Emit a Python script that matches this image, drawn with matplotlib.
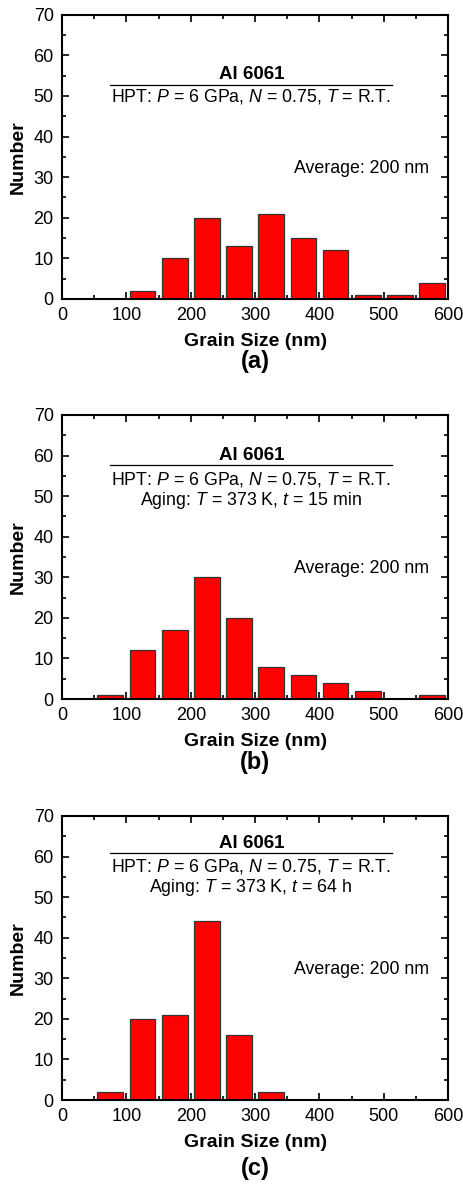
import numpy as np
import matplotlib
matplotlib.use('Agg')
import matplotlib.pyplot as plt
from matplotlib.ticker import MultipleLocator

plt.rcParams['font.family'] = ['Liberation Sans', 'DejaVu Sans']
plt.rcParams['mathtext.fontset'] = 'custom'
plt.rcParams['mathtext.rm'] = 'Liberation Sans'
plt.rcParams['mathtext.it'] = 'Liberation Sans:italic'
plt.rcParams['mathtext.bf'] = 'Liberation Sans:bold'

# bin centres (nm) and counts
bins = [25, 75, 125, 175, 225, 275, 325, 375, 425, 475, 525, 575]
counts_a = [0, 0, 2, 10, 20, 13, 21, 15, 12, 1, 1, 4]
counts_b = [0, 1, 12, 17, 30, 20, 8, 6, 4, 2, 0, 1]
counts_c = [0, 2, 20, 21, 44, 16, 2, 0, 0, 0, 0, 0]

hpt = 'HPT: $P$ = 6 GPa, $N$ = 0.75, $T$ = R.T.'
aging_b = 'Aging: $T$ = 373 K, $t$ = 15 min'
aging_c = 'Aging: $T$ = 373 K, $t$ = 64 h'
panels = [('(a)', counts_a, None), ('(b)', counts_b, aging_b), ('(c)', counts_c, aging_c)]

fig = plt.figure(figsize=(4.63, 11.86), dpi=100)
bottoms = [0.748, 0.4106, 0.0725]
lab_y = [-0.222, -0.222, -0.24]

for (lab, counts, aging), b, ly in zip(panels, bottoms, lab_y):
    ax = fig.add_axes([0.134, b, 0.834, 0.2395])
    ax.bar(bins, counts, width=40, color='#ff0000', edgecolor='#333333', linewidth=0.9)
    ax.set_xlim(0, 600)
    ax.set_ylim(0, 70)
    ax.xaxis.set_major_locator(MultipleLocator(100))
    ax.xaxis.set_minor_locator(MultipleLocator(50))
    ax.yaxis.set_major_locator(MultipleLocator(10))
    ax.yaxis.set_minor_locator(MultipleLocator(5))
    ax.tick_params(which='both', direction='in', top=True, right=True, width=1.2, labelsize=13)
    ax.tick_params(which='major', length=5, pad=6)
    ax.tick_params(which='minor', length=3)
    for s in ax.spines.values():
        s.set_linewidth(1.5)
    ax.set_xlabel('Grain Size (nm)', fontsize=14, fontweight='bold', labelpad=6)
    ax.set_ylabel('Number', fontsize=14, fontweight='bold', labelpad=5)

    if aging is None:
        y0, yl, yh = 55.2, 52.7, 49.9
    elif lab == '(b)':
        y0, yl, yh = 60.1, 57.6, 54.2
    else:
        y0, yl, yh = 63.3, 60.8, 57.5
    ax.text(295, y0, 'Al 6061', ha='center', va='center', fontsize=13.5, fontweight='bold')
    ax.plot([74, 512], [yl, yl], color='black', linewidth=0.9)
    ax.text(293, yh, hpt, ha='center', va='center', fontsize=12.8)
    if aging is not None:
        ax.text(293, yh - 5.2, aging, ha='center', va='center', fontsize=12.8)
    ax.text(466, 32.2, 'Average: 200 nm', ha='center', va='center', fontsize=12.8)
    ax.text(0.5, ly, lab, transform=ax.transAxes, ha='center', va='center',
            fontsize=17, fontweight='bold')

fig.savefig('out.png', dpi=100)
